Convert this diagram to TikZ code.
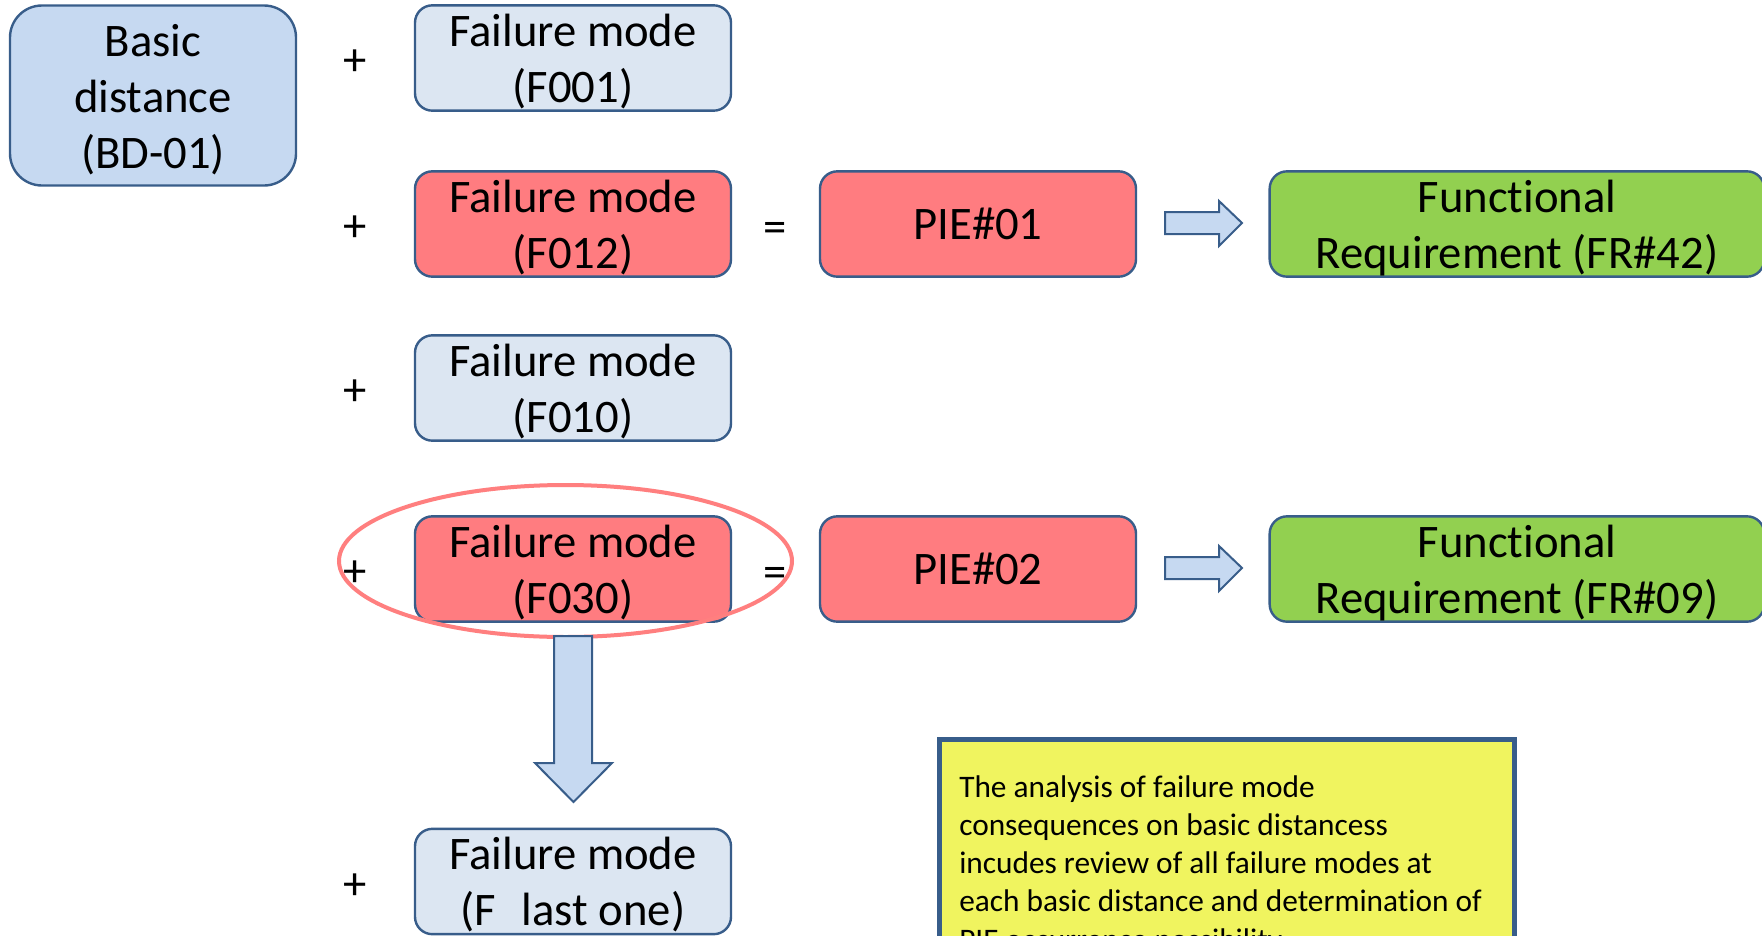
\documentclass[tikz,border=0pt]{standalone}
\usepackage{fontspec}
\setmainfont{Carlito}[Ligatures=NoCommon]

\definecolor{edge}{HTML}{385D8A}
\definecolor{bdfill}{HTML}{C6D9F1}
\definecolor{fmfill}{HTML}{DCE6F2}
\definecolor{hotfill}{HTML}{FF7C80}
\definecolor{frfill}{HTML}{92D050}
\definecolor{notefill}{HTML}{F0F45F}
\definecolor{ring}{HTML}{FF7F7F}

\newcommand{\bigtxt}{\fontsize{35}{42.2}\selectfont}
\newcommand{\notetxt}{\fontsize{23.5}{28.7}\selectfont}
% centred lines whose first baseline sits #1 above the box centre
\newcommand{\rows}[2]{\raisebox{#1}[0pt][0pt]{\begin{tabular}[t]{@{}c@{}}#2\end{tabular}}}

\tikzset{
  box/.style={draw=edge, line width=1.8pt, rounded corners=13pt,
    inner sep=0pt, font=\bigtxt, minimum height=79pt},
  basebox/.style={box, fill=bdfill, rounded corners=24pt,
    minimum width=214.5pt, minimum height=135pt},
  fmbox/.style={box, fill=fmfill, minimum width=237pt},
  hotbox/.style={box, fill=hotfill, minimum width=237pt},
  frbox/.style={box, fill=frfill, minimum width=371pt},
  sign/.style={font=\bigtxt, inner sep=0pt},
  blockarrow/.style={draw=edge, fill=bdfill, line width=1.5pt, line join=miter},
  pics/rightarrow/.style={code={
    \draw[blockarrow] (-38,-11) -- (16,-11) -- (16,-22) -- (39,0) -- (16,23)
      -- (16,11) -- (-38,11) -- cycle;}}
}

\begin{document}
\begin{tikzpicture}[x=0.75pt, y=-0.75pt]
  \useasboundingbox (0,0) rectangle (1762,935);
  \clip (0,0) rectangle (1762,935);
  \fill[white] (0,0) rectangle (1762,935);

  % starting distance
  \node[basebox] (bd) at (153,95.5) {\rows{29.6pt}{Basic\\distance\\(BD-01)}};

  % failure modes combined with the basic distance
  \node[fmbox]  (f001)  at (573,58)    {\rows{9pt}{Failure mode\\(F001)}};
  \node[hotbox] (f012)  at (573,224)   {\rows{9pt}{Failure mode\\(F012)}};
  \node[fmbox]  (f010)  at (573,388)   {\rows{9pt}{Failure mode\\(F010)}};
  \node[hotbox] (f030)  at (573,569)   {\rows{9pt}{Failure mode\\(F030)}};
  \node[fmbox]  (flast) at (573,881.5) {\rows{9pt}{Failure mode\\(F\hspace{0.55em}last one)}};

  \foreach \n/\y in {p1/63, p2/229, p3/393, p4/574, p5/887}
    \node[sign] (\n) at (355,\y) {+};

  % resulting PIEs
  \node[sign] (eq1) at (775,232) {=};
  \node[sign] (eq2) at (775,577) {=};
  \node[hotbox] (pie1) at (978,224) {PIE\#01};
  \node[hotbox] (pie2) at (978,569) {PIE\#02};

  % requirements
  \node[frbox] (fr1) at (1517,224) {\rows{8.5pt}{Functional\\Requirement (FR\#42)}};
  \node[frbox] (fr2) at (1517,569) {\rows{8.5pt}{Functional\\Requirement (FR\#09)}};

  \pic at (1203,223) {rightarrow};
  \pic at (1203,568) {rightarrow};

  % highlight of the selected failure mode
  \draw[ring, line width=3pt] (565.5,561) ellipse [x radius=226.5, y radius=76];

  % step down to the next failure mode
  \draw[blockarrow] (554,636) -- (592,636) -- (592,763) -- (612,763) -- (573.5,802)
    -- (535,763) -- (554,763) -- cycle;

  % explanatory note
  \draw[draw=edge, fill=notefill, line width=3.75pt] (939,739) rectangle (1514,990);
  \node[anchor=north west, align=left, inner sep=0pt, font=\notetxt] (note) at (959,775)
    {The analysis of failure mode\\
     consequences on basic distancess\\
     incudes review of all failure modes at\\
     each basic distance and determination of\\
     PIE occurrence possibility};
\end{tikzpicture}
\end{document}
